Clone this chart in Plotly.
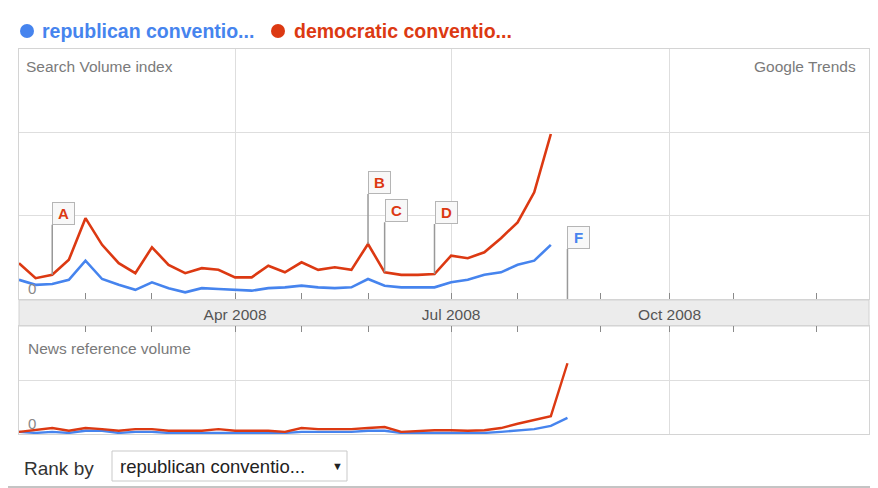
import pandas as pd
import plotly.graph_objects as go

# ---------------- data ----------------
series_names = ["republican conventio...", "democratic conventio..."]
search_dates = pd.date_range("2008-01-01", periods=33, freq="7D")
news_dates = pd.date_range("2008-01-01", periods=34, freq="7D")

republican_search = [0.23, 0.17, 0.18, 0.23, 0.46, 0.24, 0.17, 0.11, 0.20, 0.13, 0.08,
                     0.13, 0.12, 0.11, 0.10, 0.13, 0.14, 0.16, 0.14, 0.13, 0.14, 0.24,
                     0.16, 0.14, 0.14, 0.14, 0.20, 0.23, 0.29, 0.32, 0.41, 0.46, 0.65]
democratic_search = [0.43, 0.25, 0.29, 0.47, 0.97, 0.65, 0.43, 0.31, 0.62, 0.41, 0.31,
                     0.37, 0.35, 0.26, 0.26, 0.40, 0.32, 0.44, 0.35, 0.38, 0.35, 0.66,
                     0.32, 0.29, 0.29, 0.30, 0.52, 0.49, 0.56, 0.73, 0.92, 1.28, 1.98]

republican_news = [0.04, 0.02, 0.04, 0.02, 0.06, 0.06, 0.02, 0.04, 0.04, 0.02, 0.02,
                   0.02, 0.02, 0.02, 0.02, 0.02, 0.02, 0.04, 0.04, 0.04, 0.04, 0.06,
                   0.06, 0.02, 0.02, 0.02, 0.02, 0.02, 0.02, 0.04, 0.06, 0.09, 0.15, 0.30]
democratic_news = [0.04, 0.07, 0.11, 0.06, 0.11, 0.09, 0.06, 0.09, 0.09, 0.06, 0.06,
                   0.06, 0.09, 0.06, 0.06, 0.06, 0.04, 0.11, 0.09, 0.09, 0.09, 0.11,
                   0.13, 0.04, 0.06, 0.07, 0.07, 0.06, 0.07, 0.11, 0.19, 0.26, 0.33, 1.31]

# news markers: (letter, series, index into the weekly dates)
marker_letters = ["A", "B", "C", "D", "F"]
marker_series = ["dem", "dem", "dem", "dem", "rep"]
marker_index = [2, 21, 22, 25, 33]

month_ticks = ["2008-04-01", "2008-07-01", "2008-10-01"]
week_ticks = ["2008-01-29", "2008-02-26", "2008-04-29", "2008-05-27", "2008-07-29",
              "2008-09-02", "2008-10-28", "2008-12-02"]
x_range = ["2008-01-01", "2008-12-24"]

BLUE = "#4684ee"
RED = "#dc3912"
# the page body has an 8px margin, so the figure is 8px smaller and all
# layout positions below (given in page pixels) are shifted by 8px
OFF = 8
W, H = 878 - OFF, 488 - OFF
FONT = "Liberation Sans, Arial, sans-serif"


def px(x):
    return (x - OFF) / W


def py(y):
    return 1 - (y - OFF) / H


fig = go.Figure()
fig.add_trace(go.Scatter(x=search_dates, y=republican_search, mode="lines",
                         line=dict(color=BLUE, width=2.6), name=series_names[0],
                         xaxis="x", yaxis="y"))
fig.add_trace(go.Scatter(x=search_dates, y=democratic_search, mode="lines",
                         line=dict(color=RED, width=2.6), name=series_names[1],
                         xaxis="x", yaxis="y"))
fig.add_trace(go.Scatter(x=news_dates, y=republican_news, mode="lines",
                         line=dict(color=BLUE, width=2.4), name=series_names[0],
                         xaxis="x2", yaxis="y2"))
fig.add_trace(go.Scatter(x=news_dates, y=democratic_news, mode="lines",
                         line=dict(color=RED, width=2.4), name=series_names[1],
                         xaxis="x2", yaxis="y2"))

GRID = "#dedede"
BORDER = "#d4d4d4"
TICK = "#8a8a8a"
xdom = [px(19), px(869)]

common_x = dict(type="date", range=x_range, domain=xdom, tickmode="array",
                tickvals=month_ticks, ticks="inside", ticklen=6, tickcolor=TICK,
                showgrid=True, gridcolor=GRID, gridwidth=1, showline=True,
                linecolor=BORDER, mirror=True, zeroline=False,
                minor=dict(tickmode="array", tickvals=week_ticks, ticks="inside",
                           ticklen=6, tickcolor=TICK, showgrid=False))

fig.update_layout(
    width=W, height=H, autosize=False,
    margin=dict(l=0, r=0, t=0, b=0),
    paper_bgcolor="white", plot_bgcolor="white",
    showlegend=False,
    font=dict(family=FONT, color="#666"),
    xaxis=dict(**common_x, anchor="y", tickformat="%b %Y",
               tickfont=dict(size=15.5, color="#555"), ticklabelstandoff=1),
    xaxis2=dict(**common_x, anchor="y2", side="top", matches="x",
                showticklabels=False),
    yaxis=dict(domain=[py(299), py(49)], range=[0, 3], tickmode="array",
               tickvals=[1, 2], showticklabels=False, showgrid=True,
               gridcolor=GRID, showline=True, linecolor=BORDER, mirror=True,
               zeroline=False, fixedrange=True),
    yaxis2=dict(domain=[py(434), py(326)], range=[0, 2], tickmode="array",
                tickvals=[1], showticklabels=False, showgrid=True,
                gridcolor=GRID, showline=True, linecolor=BORDER, mirror=True,
                zeroline=False, fixedrange=True),
)

shapes = [
    # date band between panels
    dict(type="rect", xref="paper", yref="paper", x0=px(19), x1=px(869),
         y0=py(326), y1=py(300), fillcolor="#ececec",
         line=dict(color="#d2d2d2", width=1), layer="below"),
    # legend dots
    dict(type="circle", xref="paper", yref="paper", xsizemode="pixel",
         ysizemode="pixel", xanchor=px(27), yanchor=py(31), x0=-7, x1=7,
         y0=-7, y1=7, fillcolor=BLUE, line=dict(width=0)),
    dict(type="circle", xref="paper", yref="paper", xsizemode="pixel",
         ysizemode="pixel", xanchor=px(278), yanchor=py(31), x0=-7, x1=7,
         y0=-7, y1=7, fillcolor=RED, line=dict(width=0)),
    # dropdown box
    dict(type="rect", xref="paper", yref="paper", x0=px(112), x1=px(347),
         y0=py(481), y1=py(451), fillcolor="white",
         line=dict(color="#c9c9c9", width=1)),
    # bottom rule
    dict(type="line", xref="paper", yref="paper", x0=0, x1=1,
         y0=py(487), y1=py(487), line=dict(color="#c4c4c4", width=2)),
]
fig.update_layout(shapes=shapes)

ann = [
    dict(text="<b>" + series_names[0] + "</b>", x=px(40), y=py(31),
         font=dict(size=19.5, color=BLUE)),
    dict(text="<b>" + series_names[1] + "</b>", x=px(292), y=py(31),
         font=dict(size=19.5, color=RED)),
    dict(text="Search Volume index", x=px(24), y=py(66),
         font=dict(size=15.5, color="#7a7a7a")),
    dict(text="Google Trends", x=px(858), y=py(66), xanchor="right",
         font=dict(size=15.5, color="#7a7a7a")),
    dict(text="News reference volume", x=px(26), y=py(348),
         font=dict(size=15.5, color="#7a7a7a")),
    dict(text="Rank by", x=px(22), y=py(468),
         font=dict(size=19, color="#333")),
    dict(text=series_names[0], x=px(118), y=py(466),
         font=dict(size=18.5, color="#222")),
    dict(text="▼", x=px(337), y=py(466), xanchor="center",
         font=dict(size=11, color="#222")),
]
annotations = []
for a in ann:
    d = dict(xref="paper", yref="paper", showarrow=False, xanchor="left",
             yanchor="middle")
    d.update(a)
    d["font"] = dict(family=FONT, **a["font"])
    annotations.append(d)

# zero labels
annotations.append(dict(text="0", xref="paper", yref="y", x=px(26), y=0,
                        xanchor="left", yanchor="bottom", showarrow=False,
                        font=dict(family=FONT, size=15, color="#888")))
annotations.append(dict(text="0", xref="paper", yref="y2", x=px(26), y=0,
                        xanchor="left", yanchor="bottom", showarrow=False,
                        font=dict(family=FONT, size=15, color="#888")))

# news event flags
for letter, ser, idx in zip(marker_letters, marker_series, marker_index):
    if ser == "dem":
        yv = democratic_search[idx] if idx < len(democratic_search) else 0
        col = RED
    else:
        yv = republican_search[idx] if idx < len(republican_search) else 0
        col = BLUE
    annotations.append(dict(
        x=news_dates[idx], y=yv, xref="x", yref="y",
        text="<b>" + letter + "</b>", showarrow=True, arrowhead=0,
        arrowwidth=1.5, arrowcolor="#999", ax=0, ay=-50,
        xanchor="left", yanchor="bottom",
        font=dict(family=FONT, size=15, color=col),
        bgcolor="#f8f8f8", bordercolor="#b5b5b5", borderwidth=1,
        borderpad=2, width=17, height=17))

fig.update_layout(annotations=annotations)

fig.write_html("out.html")
